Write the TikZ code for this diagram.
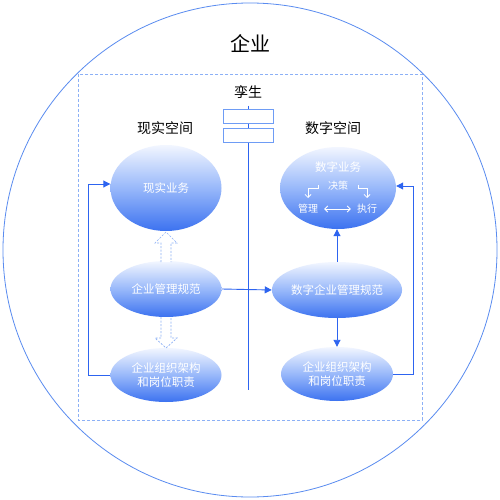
\documentclass[tikz,border=0pt]{standalone}
\usepackage{fontspec}
\newfontfamily\cjk{Noto Sans CJK SC}
\usetikzlibrary{shapes.geometric,arrows.meta,calc}
\definecolor{lineblue}{HTML}{2D64F0}
\definecolor{circblue}{HTML}{5A8CF0}
\definecolor{dashblue}{HTML}{8CB0F6}
\definecolor{boxblue}{HTML}{6E9CF5}
\definecolor{topc}{HTML}{F2F6FF}
\definecolor{midc}{HTML}{98B8FA}
\definecolor{botc}{HTML}{3C72F0}
\tikzset{
  oval/.style={ellipse, inner sep=0pt, minimum width=111pt, top color=topc, bottom color=botc, middle color=midc, text=white, font=\cjk\fontsize{11.5}{14}\selectfont, align=center},
  conn/.style={lineblue, line width=0.9pt, -{Triangle[length=7pt,width=7pt]}},
  plain/.style={lineblue, line width=0.9pt},
  hollow/.style={dashblue, dashed, dash pattern=on 2pt off 1.5pt, line width=0.7pt, fill=white},
  lbl/.style={font=\cjk\fontsize{14}{16}\selectfont, text=black},
  small/.style={font=\cjk\fontsize{10}{12}\selectfont, text=white, inner sep=0pt},
  twinbox/.style={draw=boxblue, fill=white, line width=0.9pt, minimum width=50pt, minimum height=14pt, inner sep=0pt},
  wline/.style={white, line width=0.8pt}
}
\begin{document}
\begin{tikzpicture}[x=1pt,y=-1pt]
\useasboundingbox (0,0) rectangle (500,500);
\fill[white] (0,0) rectangle (500,500);
\draw[circblue, line width=0.8pt] (250,250) circle (247pt);
\node[font=\cjk\fontsize{20}{22}\selectfont] (title) at (250,44) {企业};
\draw[dashblue, dashed, dash pattern=on 3pt off 2pt, line width=0.8pt] (78,74) rectangle (422,420);
\node[lbl] (twin) at (248,92) {孪生};
\coordinate (vtop) at (248,106);
\coordinate (vbot) at (248,390);
\draw[plain] (vtop) -- (vbot);
\node[twinbox] (b1) at (248,116) {};
\node[twinbox] (b2) at (248,135) {};
\node[lbl] (real) at (165,128) {现实空间};
\node[lbl] (digi) at (333,128) {数字空间};

\node[oval, minimum height=86pt] (rb) at (166,188) {现实业务};
\node[oval, minimum height=56pt] (rm) at (166,289) {企业管理规范};
\node[oval, minimum height=54pt] (ro) at (166,375) {企业组织架构\\和岗位职责};

\node[oval, minimum width=116pt, minimum height=82pt] (db) at (338,188) {};
\node[oval, minimum width=112pt, minimum height=56pt] (dm) at (337,290) {数字企业管理规范};
\node[oval, minimum width=112pt, minimum height=54pt] (do) at (337,374) {企业组织架构\\和岗位职责};

\node[small, font=\cjk\fontsize{11.5}{14}\selectfont] (t1) at (338,167) {数字业务};
\node[small] (t2) at (338,186) {决策};
\node[small] (t3) at (308,209) {管理};
\node[small] (t4) at (367,209) {执行};
\draw[wline, {Straight Barb[length=3pt]}-{Straight Barb[length=3pt]}] ($(t3.east)+(6,0)$) -- ($(t4.west)+(-6,0)$);
\coordinate (l0) at (318,185);
\coordinate (la) at (318,188);
\coordinate (lb) at (308,188);
\coordinate (lc) at (308,198);
\draw[wline, -{Straight Barb[length=3pt]}] (l0) -- (la) -- (lb) -- (lc);
\coordinate (r0) at (358,185);
\coordinate (ra) at (358,188);
\coordinate (rb2) at (367,188);
\coordinate (rc) at (367,198);
\draw[wline, -{Straight Barb[length=3pt]}] (r0) -- (ra) -- (rb2) -- (rc);

% connectors
\coordinate (lc1) at (88,375);
\coordinate (lc2) at (88,184);
\draw[conn] (ro.west) -- (lc1) -- (lc2) -- (rb.west |- lc2);
\coordinate (rc1) at (413,374);
\coordinate (rc2) at (413,186);
\draw[conn] (do.east) -- (rc1) -- (rc2) -- (db.east |- rc2);
\draw[conn] (rm.east) -- (dm.west);
\draw[conn] (dm.north) -- (dm.north |- db.south);
\draw[conn] (dm.south) -- (do.north);

% hollow arrows
\draw[hollow] (161,262) -- (161,243) -- (155,243) -- (166,232) -- (177,243) -- (171,243) -- (171,262);
\draw[hollow] (161,317) -- (161,338) -- (155,338) -- (166,348) -- (177,338) -- (171,338) -- (171,317);
\end{tikzpicture}
\end{document}
